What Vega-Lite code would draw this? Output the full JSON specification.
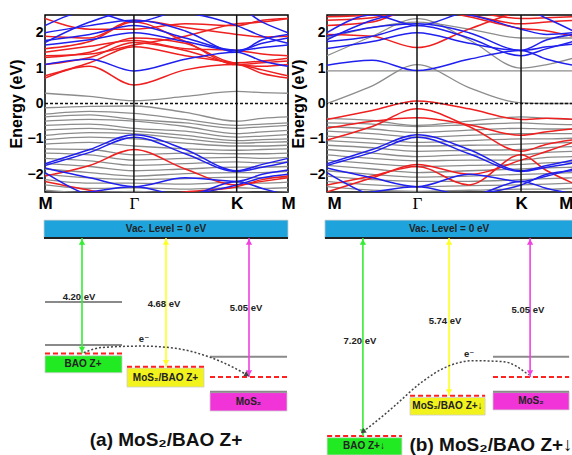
{
"$schema":"https://vega.github.io/schema/vega-lite/v6.json",
"padding":{"left":7,"top":13,"right":0,"bottom":0},
"background":"white",
"config":{"view":{"stroke":"black","strokeWidth":1.5},"font":"Liberation Sans",
"axis":{"grid":false,"domain":false,"labelFont":"Liberation Sans","labelFontWeight":"bold","labelColor":"black","tickColor":"black","titleFont":"Liberation Sans","titleFontWeight":"bold","titleColor":"black"}},
"datasets":{
"A":[
{"b":1,"c":"g","x":0,"e":0.29},{"b":1,"c":"g","x":0.29,"e":0.2},{"b":1,"c":"g","x":0.577,"e":0.08},{"b":1,"c":"g","x":0.91,"e":0.2},{"b":1,"c":"g","x":1.244,"e":0.34},{"b":1,"c":"g","x":1.41,"e":0.31},{"b":1,"c":"g","x":1.577,"e":0.29},
{"b":2,"c":"g","x":0,"e":-0.12},{"b":2,"c":"g","x":0.29,"e":-0.08},{"b":2,"c":"g","x":0.577,"e":-0.07},{"b":2,"c":"g","x":0.91,"e":-0.25},{"b":2,"c":"g","x":1.244,"e":-0.5},{"b":2,"c":"g","x":1.41,"e":-0.42},{"b":2,"c":"g","x":1.577,"e":-0.38},
{"b":3,"c":"g","x":0,"e":-0.3},{"b":3,"c":"g","x":0.29,"e":-0.22},{"b":3,"c":"g","x":0.577,"e":-0.28},{"b":3,"c":"g","x":0.91,"e":-0.45},{"b":3,"c":"g","x":1.244,"e":-0.62},{"b":3,"c":"g","x":1.41,"e":-0.58},{"b":3,"c":"g","x":1.577,"e":-0.55},
{"b":4,"c":"g","x":0,"e":-0.38},{"b":4,"c":"g","x":0.29,"e":-0.32},{"b":4,"c":"g","x":0.577,"e":-0.45},{"b":4,"c":"g","x":0.91,"e":-0.55},{"b":4,"c":"g","x":1.244,"e":-0.7},{"b":4,"c":"g","x":1.41,"e":-0.66},{"b":4,"c":"g","x":1.577,"e":-0.62},
{"b":5,"c":"g","x":0,"e":-0.5},{"b":5,"c":"g","x":0.29,"e":-0.45},{"b":5,"c":"g","x":0.577,"e":-0.5},{"b":5,"c":"g","x":0.91,"e":-0.65},{"b":5,"c":"g","x":1.244,"e":-0.85},{"b":5,"c":"g","x":1.41,"e":-0.8},{"b":5,"c":"g","x":1.577,"e":-0.76},
{"b":6,"c":"g","x":0,"e":-0.62},{"b":6,"c":"g","x":0.29,"e":-0.58},{"b":6,"c":"g","x":0.577,"e":-0.7},{"b":6,"c":"g","x":0.91,"e":-0.78},{"b":6,"c":"g","x":1.244,"e":-0.95},{"b":6,"c":"g","x":1.41,"e":-0.92},{"b":6,"c":"g","x":1.577,"e":-0.88},
{"b":7,"c":"g","x":0,"e":-0.75},{"b":7,"c":"g","x":0.29,"e":-0.7},{"b":7,"c":"g","x":0.577,"e":-0.78},{"b":7,"c":"g","x":0.91,"e":-0.9},{"b":7,"c":"g","x":1.244,"e":-1.05},{"b":7,"c":"g","x":1.41,"e":-1.02},{"b":7,"c":"g","x":1.577,"e":-1.0},
{"b":8,"c":"g","x":0,"e":-0.9},{"b":8,"c":"g","x":0.29,"e":-0.82},{"b":8,"c":"g","x":0.577,"e":-0.85},{"b":8,"c":"g","x":0.91,"e":-1.0},{"b":8,"c":"g","x":1.244,"e":-1.12},{"b":8,"c":"g","x":1.41,"e":-1.1},{"b":8,"c":"g","x":1.577,"e":-1.08},
{"b":9,"c":"g","x":0,"e":-1.02},{"b":9,"c":"g","x":0.29,"e":-0.95},{"b":9,"c":"g","x":0.577,"e":-1.0},{"b":9,"c":"g","x":0.91,"e":-1.12},{"b":9,"c":"g","x":1.244,"e":-1.2},{"b":9,"c":"g","x":1.41,"e":-1.2},{"b":9,"c":"g","x":1.577,"e":-1.18},
{"b":10,"c":"g","x":0,"e":-1.15},{"b":10,"c":"g","x":0.29,"e":-1.1},{"b":10,"c":"g","x":0.577,"e":-1.2},{"b":10,"c":"g","x":0.91,"e":-1.28},{"b":10,"c":"g","x":1.244,"e":-1.32},{"b":10,"c":"g","x":1.41,"e":-1.3},{"b":10,"c":"g","x":1.577,"e":-1.28},
{"b":11,"c":"g","x":0,"e":-1.28},{"b":11,"c":"g","x":0.29,"e":-1.3},{"b":11,"c":"g","x":0.577,"e":-1.45},{"b":11,"c":"g","x":0.91,"e":-1.4},{"b":11,"c":"g","x":1.244,"e":-1.42},{"b":11,"c":"g","x":1.41,"e":-1.42},{"b":11,"c":"g","x":1.577,"e":-1.4},
{"b":12,"c":"g","x":0,"e":-1.4},{"b":12,"c":"g","x":0.29,"e":-1.45},{"b":12,"c":"g","x":0.577,"e":-1.6},{"b":12,"c":"g","x":0.91,"e":-1.55},{"b":12,"c":"g","x":1.244,"e":-1.52},{"b":12,"c":"g","x":1.41,"e":-1.55},{"b":12,"c":"g","x":1.577,"e":-1.52},
{"b":13,"c":"g","x":0,"e":-1.55},{"b":13,"c":"g","x":0.29,"e":-1.62},{"b":13,"c":"g","x":0.577,"e":-1.75},{"b":13,"c":"g","x":0.91,"e":-1.7},{"b":13,"c":"g","x":1.244,"e":-1.65},{"b":13,"c":"g","x":1.41,"e":-1.68},{"b":13,"c":"g","x":1.577,"e":-1.65},
{"b":14,"c":"g","x":0,"e":-1.7},{"b":14,"c":"g","x":0.29,"e":-1.78},{"b":14,"c":"g","x":0.577,"e":-1.9},{"b":14,"c":"g","x":0.91,"e":-1.85},{"b":14,"c":"g","x":1.244,"e":-1.8},{"b":14,"c":"g","x":1.41,"e":-1.8},{"b":14,"c":"g","x":1.577,"e":-1.78},
{"b":15,"c":"g","x":0,"e":-1.85},{"b":15,"c":"g","x":0.29,"e":-1.95},{"b":15,"c":"g","x":0.577,"e":-2.05},{"b":15,"c":"g","x":0.91,"e":-1.98},{"b":15,"c":"g","x":1.244,"e":-1.95},{"b":15,"c":"g","x":1.41,"e":-1.95},{"b":15,"c":"g","x":1.577,"e":-1.92},
{"b":16,"c":"g","x":0,"e":-2.0},{"b":16,"c":"g","x":0.29,"e":-2.1},{"b":16,"c":"g","x":0.577,"e":-2.15},{"b":16,"c":"g","x":0.91,"e":-2.12},{"b":16,"c":"g","x":1.244,"e":-2.08},{"b":16,"c":"g","x":1.41,"e":-2.1},{"b":16,"c":"g","x":1.577,"e":-2.08},
{"b":17,"c":"g","x":0,"e":-2.15},{"b":17,"c":"g","x":0.29,"e":-2.25},{"b":17,"c":"g","x":0.577,"e":-2.25},{"b":17,"c":"g","x":0.91,"e":-2.28},{"b":17,"c":"g","x":1.244,"e":-2.22},{"b":17,"c":"g","x":1.41,"e":-2.25},{"b":17,"c":"g","x":1.577,"e":-2.22},
{"b":18,"c":"g","x":0,"e":-2.3},{"b":18,"c":"g","x":0.29,"e":-2.4},{"b":18,"c":"g","x":0.577,"e":-2.38},{"b":18,"c":"g","x":0.91,"e":-2.42},{"b":18,"c":"g","x":1.244,"e":-2.38},{"b":18,"c":"g","x":1.41,"e":-2.4},{"b":18,"c":"g","x":1.577,"e":-2.38},
{"b":19,"c":"g","x":0,"e":-2.45},{"b":19,"c":"g","x":0.29,"e":-2.52},{"b":19,"c":"g","x":0.577,"e":-2.48},{"b":19,"c":"g","x":0.91,"e":-2.55},{"b":19,"c":"g","x":1.244,"e":-2.5},{"b":19,"c":"g","x":1.41,"e":-2.52},{"b":19,"c":"g","x":1.577,"e":-2.5},
{"b":20,"c":"r","x":0,"e":0.72},{"b":20,"c":"r","x":0.29,"e":1.05},{"b":20,"c":"r","x":0.577,"e":0.52},{"b":20,"c":"r","x":0.91,"e":0.95},{"b":20,"c":"r","x":1.244,"e":1.1},{"b":20,"c":"r","x":1.41,"e":0.85},{"b":20,"c":"r","x":1.577,"e":0.72},
{"b":21,"c":"r","x":0,"e":0.78},{"b":21,"c":"r","x":0.29,"e":1.15},{"b":21,"c":"r","x":0.577,"e":1.6},{"b":21,"c":"r","x":0.91,"e":1.35},{"b":21,"c":"r","x":1.244,"e":1.12},{"b":21,"c":"r","x":1.41,"e":0.95},{"b":21,"c":"r","x":1.577,"e":0.78},
{"b":22,"c":"r","x":0,"e":1.1},{"b":22,"c":"r","x":0.29,"e":1.3},{"b":22,"c":"r","x":0.577,"e":1.72},{"b":22,"c":"r","x":0.91,"e":1.5},{"b":22,"c":"r","x":1.244,"e":1.1},{"b":22,"c":"r","x":1.41,"e":1.05},{"b":22,"c":"r","x":1.577,"e":1.1},
{"b":23,"c":"r","x":0,"e":1.3},{"b":23,"c":"r","x":0.29,"e":1.45},{"b":23,"c":"r","x":0.577,"e":1.85},{"b":23,"c":"r","x":0.91,"e":1.7},{"b":23,"c":"r","x":1.244,"e":1.15},{"b":23,"c":"r","x":1.41,"e":1.2},{"b":23,"c":"r","x":1.577,"e":1.28},
{"b":24,"c":"r","x":0,"e":1.45},{"b":24,"c":"r","x":0.29,"e":1.62},{"b":24,"c":"r","x":0.577,"e":1.78},{"b":24,"c":"r","x":0.91,"e":1.55},{"b":24,"c":"r","x":1.244,"e":1.5},{"b":24,"c":"r","x":1.41,"e":1.4},{"b":24,"c":"r","x":1.577,"e":1.35},
{"b":25,"c":"r","x":0,"e":1.55},{"b":25,"c":"r","x":0.29,"e":1.75},{"b":25,"c":"r","x":0.577,"e":2.3},{"b":25,"c":"r","x":0.91,"e":1.75},{"b":25,"c":"r","x":1.244,"e":1.1},{"b":25,"c":"r","x":1.41,"e":1.15},{"b":25,"c":"r","x":1.577,"e":1.2},
{"b":26,"c":"r","x":0,"e":1.9},{"b":26,"c":"r","x":0.29,"e":1.85},{"b":26,"c":"r","x":0.577,"e":2.35},{"b":26,"c":"r","x":0.91,"e":2.15},{"b":26,"c":"r","x":1.244,"e":1.95},{"b":26,"c":"r","x":1.41,"e":1.88},{"b":26,"c":"r","x":1.577,"e":1.9},
{"b":27,"c":"r","x":0,"e":2.4},{"b":27,"c":"r","x":0.29,"e":2.1},{"b":27,"c":"r","x":0.577,"e":2.1},{"b":27,"c":"r","x":0.91,"e":2.25},{"b":27,"c":"r","x":1.244,"e":2.2},{"b":27,"c":"r","x":1.41,"e":2.35},{"b":27,"c":"r","x":1.577,"e":2.4},
{"b":28,"c":"r","x":0,"e":1.35},{"b":28,"c":"r","x":0.29,"e":1.4},{"b":28,"c":"r","x":0.577,"e":1.65},{"b":28,"c":"r","x":0.91,"e":1.9},{"b":28,"c":"r","x":1.244,"e":2.25},{"b":28,"c":"r","x":1.41,"e":2.3},{"b":28,"c":"r","x":1.577,"e":2.4},
{"b":29,"c":"r","x":0,"e":-2.05},{"b":29,"c":"r","x":0.29,"e":-1.75},{"b":29,"c":"r","x":0.577,"e":-1.3},{"b":29,"c":"r","x":0.91,"e":-1.85},{"b":29,"c":"r","x":1.244,"e":-2.3},{"b":29,"c":"r","x":1.41,"e":-2.2},{"b":29,"c":"r","x":1.577,"e":-2.1},
{"b":30,"c":"r","x":0,"e":-2.2},{"b":30,"c":"r","x":0.29,"e":-2.45},{"b":30,"c":"r","x":0.577,"e":-2.65},{"b":30,"c":"r","x":0.91,"e":-2.5},{"b":30,"c":"r","x":1.244,"e":-2.35},{"b":30,"c":"r","x":1.41,"e":-2.15},{"b":30,"c":"r","x":1.577,"e":-2.05},
{"b":31,"c":"b","x":0,"e":1.1},{"b":31,"c":"b","x":0.29,"e":1.25},{"b":31,"c":"b","x":0.577,"e":0.92},{"b":31,"c":"b","x":0.91,"e":1.25},{"b":31,"c":"b","x":1.244,"e":1.45},{"b":31,"c":"b","x":1.41,"e":1.2},{"b":31,"c":"b","x":1.577,"e":1.05},
{"b":32,"c":"b","x":0,"e":1.65},{"b":32,"c":"b","x":0.29,"e":1.8},{"b":32,"c":"b","x":0.577,"e":2.0},{"b":32,"c":"b","x":0.91,"e":1.75},{"b":32,"c":"b","x":1.244,"e":1.5},{"b":32,"c":"b","x":1.41,"e":1.58},{"b":32,"c":"b","x":1.577,"e":1.65},
{"b":33,"c":"b","x":0,"e":1.78},{"b":33,"c":"b","x":0.29,"e":1.95},{"b":33,"c":"b","x":0.577,"e":2.2},{"b":33,"c":"b","x":0.91,"e":1.85},{"b":33,"c":"b","x":1.244,"e":1.5},{"b":33,"c":"b","x":1.41,"e":1.7},{"b":33,"c":"b","x":1.577,"e":1.85},
{"b":34,"c":"b","x":0,"e":2.0},{"b":34,"c":"b","x":0.29,"e":2.2},{"b":34,"c":"b","x":0.577,"e":2.35},{"b":34,"c":"b","x":0.91,"e":2.05},{"b":34,"c":"b","x":1.244,"e":1.45},{"b":34,"c":"b","x":1.41,"e":1.8},{"b":34,"c":"b","x":1.577,"e":1.95},
{"b":35,"c":"b","x":0,"e":1.72},{"b":35,"c":"b","x":0.29,"e":2.3},{"b":35,"c":"b","x":0.577,"e":2.6},{"b":35,"c":"b","x":0.91,"e":2.55},{"b":35,"c":"b","x":1.244,"e":2.2},{"b":35,"c":"b","x":1.41,"e":1.9},{"b":35,"c":"b","x":1.577,"e":1.7},
{"b":36,"c":"b","x":0,"e":2.2},{"b":36,"c":"b","x":0.29,"e":2.6},{"b":36,"c":"b","x":0.577,"e":2.3},{"b":36,"c":"b","x":0.91,"e":2.65},{"b":36,"c":"b","x":1.244,"e":2.7},{"b":36,"c":"b","x":1.41,"e":2.3},{"b":36,"c":"b","x":1.577,"e":2.0},
{"b":37,"c":"b","x":0,"e":-1.7},{"b":37,"c":"b","x":0.29,"e":-1.3},{"b":37,"c":"b","x":0.577,"e":-0.88},{"b":37,"c":"b","x":0.91,"e":-1.3},{"b":37,"c":"b","x":1.244,"e":-1.9},{"b":37,"c":"b","x":1.41,"e":-1.72},{"b":37,"c":"b","x":1.577,"e":-1.55},
{"b":38,"c":"b","x":0,"e":-1.75},{"b":38,"c":"b","x":0.29,"e":-1.38},{"b":38,"c":"b","x":0.577,"e":-0.95},{"b":38,"c":"b","x":0.91,"e":-1.42},{"b":38,"c":"b","x":1.244,"e":-1.92},{"b":38,"c":"b","x":1.41,"e":-1.8},{"b":38,"c":"b","x":1.577,"e":-1.65},
{"b":39,"c":"b","x":0,"e":-1.82},{"b":39,"c":"b","x":0.29,"e":-2.1},{"b":39,"c":"b","x":0.577,"e":-2.35},{"b":39,"c":"b","x":0.91,"e":-2.1},{"b":39,"c":"b","x":1.244,"e":-2.2},{"b":39,"c":"b","x":1.41,"e":-2.0},{"b":39,"c":"b","x":1.577,"e":-1.88},
{"b":40,"c":"b","x":0,"e":-1.95},{"b":40,"c":"b","x":0.29,"e":-2.6},{"b":40,"c":"b","x":0.577,"e":-2.8},{"b":40,"c":"b","x":0.91,"e":-2.6},{"b":40,"c":"b","x":1.244,"e":-2.3},{"b":40,"c":"b","x":1.41,"e":-2.1},{"b":40,"c":"b","x":1.577,"e":-2.0},
{"b":41,"c":"b","x":0,"e":-2.7},{"b":41,"c":"b","x":0.29,"e":-2.5},{"b":41,"c":"b","x":0.577,"e":-2.35},{"b":41,"c":"b","x":0.91,"e":-2.6},{"b":41,"c":"b","x":1.244,"e":-2.2},{"b":41,"c":"b","x":1.41,"e":-2.4},{"b":41,"c":"b","x":1.577,"e":-2.6}
],
"B":[
{"b":1,"c":"g","x":0,"e":0.92},{"b":1,"c":"g","x":0.29,"e":0.92},{"b":1,"c":"g","x":0.577,"e":0.92},{"b":1,"c":"g","x":0.91,"e":0.92},{"b":1,"c":"g","x":1.244,"e":0.92},{"b":1,"c":"g","x":1.41,"e":0.92},{"b":1,"c":"g","x":1.577,"e":0.92},
{"b":2,"c":"g","x":0,"e":0.0},{"b":2,"c":"g","x":0.29,"e":0.5},{"b":2,"c":"g","x":0.577,"e":1.1},{"b":2,"c":"g","x":0.91,"e":0.45},{"b":2,"c":"g","x":1.244,"e":0.02},{"b":2,"c":"g","x":1.41,"e":0.0},{"b":2,"c":"g","x":1.577,"e":0.0},
{"b":3,"c":"g","x":0,"e":1.35},{"b":3,"c":"g","x":0.29,"e":1.9},{"b":3,"c":"g","x":0.577,"e":2.4},{"b":3,"c":"g","x":0.91,"e":1.8},{"b":3,"c":"g","x":1.244,"e":1.0},{"b":3,"c":"g","x":1.41,"e":1.1},{"b":3,"c":"g","x":1.577,"e":1.28},
{"b":4,"c":"g","x":0,"e":1.85},{"b":4,"c":"g","x":0.29,"e":2.15},{"b":4,"c":"g","x":0.577,"e":2.3},{"b":4,"c":"g","x":0.91,"e":2.1},{"b":4,"c":"g","x":1.244,"e":1.85},{"b":4,"c":"g","x":1.41,"e":1.85},{"b":4,"c":"g","x":1.577,"e":1.85},
{"b":5,"c":"g","x":0,"e":-0.42},{"b":5,"c":"g","x":0.29,"e":-0.48},{"b":5,"c":"g","x":0.577,"e":-0.62},{"b":5,"c":"g","x":0.91,"e":-0.5},{"b":5,"c":"g","x":1.244,"e":-0.38},{"b":5,"c":"g","x":1.41,"e":-0.42},{"b":5,"c":"g","x":1.577,"e":-0.45},
{"b":6,"c":"g","x":0,"e":-0.55},{"b":6,"c":"g","x":0.29,"e":-0.58},{"b":6,"c":"g","x":0.577,"e":-0.65},{"b":6,"c":"g","x":0.91,"e":-0.6},{"b":6,"c":"g","x":1.244,"e":-0.55},{"b":6,"c":"g","x":1.41,"e":-0.58},{"b":6,"c":"g","x":1.577,"e":-0.6},
{"b":7,"c":"g","x":0,"e":-0.65},{"b":7,"c":"g","x":0.29,"e":-0.72},{"b":7,"c":"g","x":0.577,"e":-0.82},{"b":7,"c":"g","x":0.91,"e":-0.75},{"b":7,"c":"g","x":1.244,"e":-0.7},{"b":7,"c":"g","x":1.41,"e":-0.72},{"b":7,"c":"g","x":1.577,"e":-0.72},
{"b":8,"c":"g","x":0,"e":-0.78},{"b":8,"c":"g","x":0.29,"e":-0.85},{"b":8,"c":"g","x":0.577,"e":-0.95},{"b":8,"c":"g","x":0.91,"e":-0.9},{"b":8,"c":"g","x":1.244,"e":-0.85},{"b":8,"c":"g","x":1.41,"e":-0.85},{"b":8,"c":"g","x":1.577,"e":-0.85},
{"b":9,"c":"g","x":0,"e":-0.92},{"b":9,"c":"g","x":0.29,"e":-1.0},{"b":9,"c":"g","x":0.577,"e":-1.1},{"b":9,"c":"g","x":0.91,"e":-1.05},{"b":9,"c":"g","x":1.244,"e":-1.0},{"b":9,"c":"g","x":1.41,"e":-1.0},{"b":9,"c":"g","x":1.577,"e":-0.98},
{"b":10,"c":"g","x":0,"e":-1.05},{"b":10,"c":"g","x":0.29,"e":-1.12},{"b":10,"c":"g","x":0.577,"e":-1.2},{"b":10,"c":"g","x":0.91,"e":-1.18},{"b":10,"c":"g","x":1.244,"e":-1.15},{"b":10,"c":"g","x":1.41,"e":-1.12},{"b":10,"c":"g","x":1.577,"e":-1.1},
{"b":11,"c":"g","x":0,"e":-1.18},{"b":11,"c":"g","x":0.29,"e":-1.25},{"b":11,"c":"g","x":0.577,"e":-1.35},{"b":11,"c":"g","x":0.91,"e":-1.32},{"b":11,"c":"g","x":1.244,"e":-1.3},{"b":11,"c":"g","x":1.41,"e":-1.25},{"b":11,"c":"g","x":1.577,"e":-1.22},
{"b":12,"c":"g","x":0,"e":-1.3},{"b":12,"c":"g","x":0.29,"e":-1.4},{"b":12,"c":"g","x":0.577,"e":-1.5},{"b":12,"c":"g","x":0.91,"e":-1.45},{"b":12,"c":"g","x":1.244,"e":-1.45},{"b":12,"c":"g","x":1.41,"e":-1.38},{"b":12,"c":"g","x":1.577,"e":-1.35},
{"b":13,"c":"g","x":0,"e":-1.45},{"b":13,"c":"g","x":0.29,"e":-1.55},{"b":13,"c":"g","x":0.577,"e":-1.62},{"b":13,"c":"g","x":0.91,"e":-1.6},{"b":13,"c":"g","x":1.244,"e":-1.6},{"b":13,"c":"g","x":1.41,"e":-1.52},{"b":13,"c":"g","x":1.577,"e":-1.5},
{"b":14,"c":"g","x":0,"e":-1.6},{"b":14,"c":"g","x":0.29,"e":-1.7},{"b":14,"c":"g","x":0.577,"e":-1.78},{"b":14,"c":"g","x":0.91,"e":-1.75},{"b":14,"c":"g","x":1.244,"e":-1.72},{"b":14,"c":"g","x":1.41,"e":-1.68},{"b":14,"c":"g","x":1.577,"e":-1.65},
{"b":15,"c":"g","x":0,"e":-1.75},{"b":15,"c":"g","x":0.29,"e":-1.85},{"b":15,"c":"g","x":0.577,"e":-1.95},{"b":15,"c":"g","x":0.91,"e":-1.9},{"b":15,"c":"g","x":1.244,"e":-1.85},{"b":15,"c":"g","x":1.41,"e":-1.82},{"b":15,"c":"g","x":1.577,"e":-1.8},
{"b":16,"c":"g","x":0,"e":-1.9},{"b":16,"c":"g","x":0.29,"e":-2.0},{"b":16,"c":"g","x":0.577,"e":-2.08},{"b":16,"c":"g","x":0.91,"e":-2.05},{"b":16,"c":"g","x":1.244,"e":-2.0},{"b":16,"c":"g","x":1.41,"e":-1.98},{"b":16,"c":"g","x":1.577,"e":-1.95},
{"b":17,"c":"g","x":0,"e":-2.05},{"b":17,"c":"g","x":0.29,"e":-2.15},{"b":17,"c":"g","x":0.577,"e":-2.2},{"b":17,"c":"g","x":0.91,"e":-2.2},{"b":17,"c":"g","x":1.244,"e":-2.15},{"b":17,"c":"g","x":1.41,"e":-2.12},{"b":17,"c":"g","x":1.577,"e":-2.1},
{"b":18,"c":"g","x":0,"e":-2.2},{"b":18,"c":"g","x":0.29,"e":-2.3},{"b":18,"c":"g","x":0.577,"e":-2.35},{"b":18,"c":"g","x":0.91,"e":-2.32},{"b":18,"c":"g","x":1.244,"e":-2.3},{"b":18,"c":"g","x":1.41,"e":-2.28},{"b":18,"c":"g","x":1.577,"e":-2.25},
{"b":19,"c":"g","x":0,"e":-2.35},{"b":19,"c":"g","x":0.29,"e":-2.45},{"b":19,"c":"g","x":0.577,"e":-2.48},{"b":19,"c":"g","x":0.91,"e":-2.45},{"b":19,"c":"g","x":1.244,"e":-2.42},{"b":19,"c":"g","x":1.41,"e":-2.42},{"b":19,"c":"g","x":1.577,"e":-2.4},
{"b":20,"c":"r","x":0,"e":1.95},{"b":20,"c":"r","x":0.29,"e":1.9},{"b":20,"c":"r","x":0.577,"e":1.58},{"b":20,"c":"r","x":0.91,"e":2.1},{"b":20,"c":"r","x":1.244,"e":2.6},{"b":20,"c":"r","x":1.41,"e":2.7},{"b":20,"c":"r","x":1.577,"e":2.7},
{"b":21,"c":"r","x":0,"e":2.2},{"b":21,"c":"r","x":0.29,"e":2.3},{"b":21,"c":"r","x":0.577,"e":2.7},{"b":21,"c":"r","x":0.91,"e":2.45},{"b":21,"c":"r","x":1.244,"e":2.12},{"b":21,"c":"r","x":1.41,"e":2.05},{"b":21,"c":"r","x":1.577,"e":1.9},
{"b":22,"c":"r","x":0,"e":2.35},{"b":22,"c":"r","x":0.29,"e":2.42},{"b":22,"c":"r","x":0.577,"e":2.65},{"b":22,"c":"r","x":0.91,"e":2.5},{"b":22,"c":"r","x":1.244,"e":2.25},{"b":22,"c":"r","x":1.41,"e":2.3},{"b":22,"c":"r","x":1.577,"e":2.35},
{"b":23,"c":"r","x":0,"e":2.45},{"b":23,"c":"r","x":0.29,"e":2.5},{"b":23,"c":"r","x":0.577,"e":2.7},{"b":23,"c":"r","x":0.91,"e":2.6},{"b":23,"c":"r","x":1.244,"e":2.4},{"b":23,"c":"r","x":1.41,"e":2.42},{"b":23,"c":"r","x":1.577,"e":2.45},
{"b":24,"c":"r","x":0,"e":-0.45},{"b":24,"c":"r","x":0.29,"e":-0.2},{"b":24,"c":"r","x":0.577,"e":0.07},{"b":24,"c":"r","x":0.91,"e":-0.15},{"b":24,"c":"r","x":1.244,"e":-0.45},{"b":24,"c":"r","x":1.41,"e":-0.42},{"b":24,"c":"r","x":1.577,"e":-0.45},
{"b":25,"c":"r","x":0,"e":-0.7},{"b":25,"c":"r","x":0.29,"e":-0.5},{"b":25,"c":"r","x":0.577,"e":-0.4},{"b":25,"c":"r","x":0.91,"e":-0.6},{"b":25,"c":"r","x":1.244,"e":-0.9},{"b":25,"c":"r","x":1.41,"e":-0.8},{"b":25,"c":"r","x":1.577,"e":-0.72},
{"b":26,"c":"r","x":0,"e":-1.03},{"b":26,"c":"r","x":0.29,"e":-0.65},{"b":26,"c":"r","x":0.577,"e":-0.15},{"b":26,"c":"r","x":0.91,"e":-0.65},{"b":26,"c":"r","x":1.244,"e":-1.35},{"b":26,"c":"r","x":1.41,"e":-1.15},{"b":26,"c":"r","x":1.577,"e":-1.03},
{"b":27,"c":"r","x":0,"e":-2.5},{"b":27,"c":"r","x":0.29,"e":-2.1},{"b":27,"c":"r","x":0.577,"e":-1.72},{"b":27,"c":"r","x":0.91,"e":-2.0},{"b":27,"c":"r","x":1.244,"e":-1.6},{"b":27,"c":"r","x":1.41,"e":-1.35},{"b":27,"c":"r","x":1.577,"e":-1.1},
{"b":28,"c":"r","x":0,"e":-2.3},{"b":28,"c":"r","x":0.29,"e":-2.05},{"b":28,"c":"r","x":0.577,"e":-1.78},{"b":28,"c":"r","x":0.91,"e":-2.3},{"b":28,"c":"r","x":1.244,"e":-1.45},{"b":28,"c":"r","x":1.41,"e":-1.9},{"b":28,"c":"r","x":1.577,"e":-2.25},
{"b":29,"c":"b","x":0,"e":1.08},{"b":29,"c":"b","x":0.29,"e":1.22},{"b":29,"c":"b","x":0.577,"e":0.93},{"b":29,"c":"b","x":0.91,"e":1.25},{"b":29,"c":"b","x":1.244,"e":1.5},{"b":29,"c":"b","x":1.41,"e":1.25},{"b":29,"c":"b","x":1.577,"e":1.08},
{"b":30,"c":"b","x":0,"e":1.55},{"b":30,"c":"b","x":0.29,"e":1.75},{"b":30,"c":"b","x":0.577,"e":2.0},{"b":30,"c":"b","x":0.91,"e":1.7},{"b":30,"c":"b","x":1.244,"e":1.5},{"b":30,"c":"b","x":1.41,"e":1.6},{"b":30,"c":"b","x":1.577,"e":1.68},
{"b":31,"c":"b","x":0,"e":1.75},{"b":31,"c":"b","x":0.29,"e":1.9},{"b":31,"c":"b","x":0.577,"e":2.2},{"b":31,"c":"b","x":0.91,"e":1.85},{"b":31,"c":"b","x":1.244,"e":1.35},{"b":31,"c":"b","x":1.41,"e":1.55},{"b":31,"c":"b","x":1.577,"e":1.75},
{"b":32,"c":"b","x":0,"e":1.9},{"b":32,"c":"b","x":0.29,"e":2.15},{"b":32,"c":"b","x":0.577,"e":2.25},{"b":32,"c":"b","x":0.91,"e":2.0},{"b":32,"c":"b","x":1.244,"e":1.5},{"b":32,"c":"b","x":1.41,"e":1.8},{"b":32,"c":"b","x":1.577,"e":1.95},
{"b":33,"c":"b","x":0,"e":1.8},{"b":33,"c":"b","x":0.29,"e":2.35},{"b":33,"c":"b","x":0.577,"e":2.6},{"b":33,"c":"b","x":0.91,"e":2.5},{"b":33,"c":"b","x":1.244,"e":2.1},{"b":33,"c":"b","x":1.41,"e":1.95},{"b":33,"c":"b","x":1.577,"e":2.0},
{"b":34,"c":"b","x":0,"e":2.0},{"b":34,"c":"b","x":0.29,"e":2.5},{"b":34,"c":"b","x":0.577,"e":2.2},{"b":34,"c":"b","x":0.91,"e":2.6},{"b":34,"c":"b","x":1.244,"e":2.7},{"b":34,"c":"b","x":1.41,"e":2.4},{"b":34,"c":"b","x":1.577,"e":2.05},
{"b":35,"c":"b","x":0,"e":-1.7},{"b":35,"c":"b","x":0.29,"e":-1.3},{"b":35,"c":"b","x":0.577,"e":-0.88},{"b":35,"c":"b","x":0.91,"e":-1.3},{"b":35,"c":"b","x":1.244,"e":-1.9},{"b":35,"c":"b","x":1.41,"e":-1.75},{"b":35,"c":"b","x":1.577,"e":-1.6},
{"b":36,"c":"b","x":0,"e":-1.75},{"b":36,"c":"b","x":0.29,"e":-1.38},{"b":36,"c":"b","x":0.577,"e":-0.95},{"b":36,"c":"b","x":0.91,"e":-1.42},{"b":36,"c":"b","x":1.244,"e":-1.92},{"b":36,"c":"b","x":1.41,"e":-1.8},{"b":36,"c":"b","x":1.577,"e":-1.68},
{"b":37,"c":"b","x":0,"e":-1.82},{"b":37,"c":"b","x":0.29,"e":-2.1},{"b":37,"c":"b","x":0.577,"e":-2.35},{"b":37,"c":"b","x":0.91,"e":-2.0},{"b":37,"c":"b","x":1.244,"e":-2.2},{"b":37,"c":"b","x":1.41,"e":-2.05},{"b":37,"c":"b","x":1.577,"e":-1.85},
{"b":38,"c":"b","x":0,"e":-1.95},{"b":38,"c":"b","x":0.29,"e":-2.6},{"b":38,"c":"b","x":0.577,"e":-2.8},{"b":38,"c":"b","x":0.91,"e":-2.6},{"b":38,"c":"b","x":1.244,"e":-2.3},{"b":38,"c":"b","x":1.41,"e":-2.0},{"b":38,"c":"b","x":1.577,"e":-1.9},
{"b":39,"c":"b","x":0,"e":-2.7},{"b":39,"c":"b","x":0.29,"e":-2.5},{"b":39,"c":"b","x":0.577,"e":-2.35},{"b":39,"c":"b","x":0.91,"e":-2.6},{"b":39,"c":"b","x":1.244,"e":-2.2},{"b":39,"c":"b","x":1.41,"e":-2.4},{"b":39,"c":"b","x":1.577,"e":-2.55}
]
},
"spacing":6,
"vconcat":[
{"spacing":39,"bounds":"flush","hconcat":[
{"width":243,"height":177,"data":{"name":"A"},
"layer":[
{"transform":[{"filter":"datum.c == 'g'"}],"mark":{"type":"line","interpolate":"monotone","color":"#8c8c8c","strokeWidth":1.3,"clip":true},
"encoding":{"x":{"field":"x","type":"quantitative","scale":{"domain":[0,1.577],"nice":false,"zero":false},"axis":{"values":[0,0.577,1.244,1.577],"labelExpr":"datum.value < 0.1 ? 'M' : datum.value < 1 ? 'Γ' : datum.value < 1.5 ? 'K' : 'M'","title":null,"ticks":false,"labelFontSize":17,"labelPadding":3,"labelFlush":false,"labelOverlap":false,"labelFont":{"condition":{"test":"datum.value > 0.5 && datum.value < 0.6","value":"Liberation Serif"},"value":"Liberation Sans"},"labelFontWeight":{"condition":{"test":"datum.value > 0.5 && datum.value < 0.6","value":"normal"},"value":"bold"}}},
"y":{"field":"e","type":"quantitative","scale":{"domain":[-2.5,2.5],"nice":false,"zero":false},"axis":{"values":[-2,-1,0,1,2],"title":"Energy (eV)","titleFontSize":16,"labelFontSize":14,"ticks":false,"labelPadding":2,"titlePadding":3}},
"detail":{"field":"b"}}},
{"transform":[{"filter":"datum.c == 'r'"}],"mark":{"type":"line","interpolate":"monotone","color":"#ee2020","strokeWidth":1.5,"clip":true},
"encoding":{"x":{"field":"x","type":"quantitative"},"y":{"field":"e","type":"quantitative"},"detail":{"field":"b"}}},
{"transform":[{"filter":"datum.c == 'b'"}],"mark":{"type":"line","interpolate":"monotone","color":"#2020ee","strokeWidth":1.5,"clip":true},
"encoding":{"x":{"field":"x","type":"quantitative"},"y":{"field":"e","type":"quantitative"},"detail":{"field":"b"}}},
{"data":{"values":[{"x":0.577},{"x":1.244}]},"mark":{"type":"rule","color":"#111111","strokeWidth":1.5},"encoding":{"x":{"field":"x","type":"quantitative"}}},
{"data":{"values":[{"e":0}]},"mark":{"type":"rule","color":"#111111","strokeWidth":1.5,"strokeDash":[3,2]},"encoding":{"y":{"field":"e","type":"quantitative"}}}
]},
{"width":246,"height":177,"data":{"name":"B"},
"layer":[
{"transform":[{"filter":"datum.c == 'g'"}],"mark":{"type":"line","interpolate":"monotone","color":"#8c8c8c","strokeWidth":1.3,"clip":true},
"encoding":{"x":{"field":"x","type":"quantitative","scale":{"domain":[0,1.577],"nice":false,"zero":false},"axis":{"values":[0,0.577,1.244,1.577],"labelExpr":"datum.value < 0.1 ? 'M' : datum.value < 1 ? 'Γ' : datum.value < 1.5 ? 'K' : 'M'","title":null,"ticks":false,"labelFontSize":17,"labelPadding":3,"labelFlush":true,"labelOverlap":false,"labelFont":{"condition":{"test":"datum.value > 0.5 && datum.value < 0.6","value":"Liberation Serif"},"value":"Liberation Sans"},"labelFontWeight":{"condition":{"test":"datum.value > 0.5 && datum.value < 0.6","value":"normal"},"value":"bold"}}},
"y":{"field":"e","type":"quantitative","scale":{"domain":[-2.5,2.5],"nice":false,"zero":false},"axis":{"values":[-2,-1,0,1,2],"title":"Energy (eV)","titleFontSize":16,"labelFontSize":14,"ticks":false,"labelPadding":2,"titlePadding":3}},
"detail":{"field":"b"}}},
{"transform":[{"filter":"datum.c == 'r'"}],"mark":{"type":"line","interpolate":"monotone","color":"#ee2020","strokeWidth":1.5,"clip":true},
"encoding":{"x":{"field":"x","type":"quantitative"},"y":{"field":"e","type":"quantitative"},"detail":{"field":"b"}}},
{"transform":[{"filter":"datum.c == 'b'"}],"mark":{"type":"line","interpolate":"monotone","color":"#2020ee","strokeWidth":1.5,"clip":true},
"encoding":{"x":{"field":"x","type":"quantitative"},"y":{"field":"e","type":"quantitative"},"detail":{"field":"b"}}},
{"data":{"values":[{"x":0.577},{"x":1.244}]},"mark":{"type":"rule","color":"#111111","strokeWidth":1.5},"encoding":{"x":{"field":"x","type":"quantitative"}}},
{"data":{"values":[{"e":0}]},"mark":{"type":"rule","color":"#111111","strokeWidth":1.5,"strokeDash":[3,2]},"encoding":{"y":{"field":"e","type":"quantitative"}}}
]}
]},
{"spacing":8,"hconcat":[
{"width":250,"height":237,"view":{"stroke":null},"resolve":{"scale":{"color":"independent"}},
"layer":[
{"data":{"values":[{"x1":-0.4,"x2":97.2,"e1":-0.65,"e2":0,"f":"vac"},{"x1":0,"x2":30.8,"e1":4.28,"e2":4.9,"f":"BAO"},{"x1":32.8,"x2":63.6,"e1":4.73,"e2":5.42,"f":"het"},{"x1":66,"x2":96.8,"e1":5.62,"e2":6.29,"f":"MoS2"}]},
"mark":{"type":"rect","stroke":"#cfcfcf","strokeWidth":0.8},
"encoding":{"x":{"field":"x1","type":"quantitative","scale":{"domain":[0,100],"nice":false,"zero":false},"axis":null},"x2":{"field":"x2"},
"y":{"field":"e1","type":"quantitative","scale":{"domain":[-0.727,7.89],"reverse":true,"nice":false,"zero":false},"axis":null},"y2":{"field":"e2"},
"color":{"field":"f","type":"nominal","scale":{"domain":["vac","BAO","het","MoS2"],"range":["#1fa3dc","#22ea22","#f2f21c","#f034d8"]},"legend":null}}},
{"data":{"values":[{"x1":-0.4,"x2":97.2,"e":0,"k":"vac"},{"x1":0,"x2":30.8,"e":2.33,"k":"lvl"},{"x1":0,"x2":30.8,"e":3.89,"k":"lvl"},{"x1":66,"x2":96.8,"e":4.32,"k":"lvl"},{"x1":66,"x2":96.8,"e":5.59,"k":"lvl"}]},
"mark":{"type":"rule","strokeWidth":2},
"encoding":{"x":{"field":"x1","type":"quantitative"},"x2":{"field":"x2"},"y":{"field":"e","type":"quantitative"},
"color":{"field":"k","type":"nominal","scale":{"domain":["vac","lvl"],"range":["#222222","#8a8a8a"]},"legend":null}}},
{"data":{"values":[{"x1":0,"x2":30.8,"e":4.2},{"x1":32.8,"x2":63.6,"e":4.68},{"x1":66,"x2":96.8,"e":5.05}]},
"mark":{"type":"rule","strokeWidth":2,"color":"#ff2020","strokeDash":[5,3]},
"encoding":{"x":{"field":"x1","type":"quantitative"},"x2":{"field":"x2"},"y":{"field":"e","type":"quantitative"}}},
{"data":{"values":[{"x":14.8,"e0":0,"e1":4.2,"m":"BAO"},{"x":48.4,"e0":0,"e1":4.68,"m":"het"},{"x":81.6,"e0":0,"e1":5.05,"m":"MoS2"}]},
"layer":[
{"mark":{"type":"rule","strokeWidth":1.6},"encoding":{"x":{"field":"x","type":"quantitative"},"y":{"field":"e0","type":"quantitative"},"y2":{"field":"e1"},"color":{"field":"m","type":"nominal","scale":{"domain":["BAO","het","MoS2"],"range":["#33ee33","#ffff22","#f040e0"]},"legend":null}}},
{"mark":{"type":"point","shape":"triangle-up","filled":true,"opacity":1,"size":40,"yOffset":4},"encoding":{"x":{"field":"x","type":"quantitative"},"y":{"field":"e0","type":"quantitative"},"color":{"field":"m","type":"nominal","legend":null}}},
{"mark":{"type":"point","shape":"triangle-down","filled":true,"opacity":1,"size":40,"yOffset":-4},"encoding":{"x":{"field":"x","type":"quantitative"},"y":{"field":"e1","type":"quantitative"},"color":{"field":"m","type":"nominal","legend":null}}}
]},
{"data":{"values":[{"x":15.5,"e":4.17},{"x":22.8,"e":3.98},{"x":38.8,"e":3.93},{"x":52.1,"e":4.01},{"x":65.5,"e":4.32},{"x":76.1,"e":4.74},{"x":80.8,"e":4.98}]},
"mark":{"type":"line","interpolate":"monotone","color":"#444444","strokeWidth":1.5,"strokeDash":[2,2]},
"encoding":{"x":{"field":"x","type":"quantitative"},"y":{"field":"e","type":"quantitative"}}},
{"data":{"values":[{"x":80.8,"e":4.98}]},"mark":{"type":"point","shape":"triangle-right","angle":30,"filled":true,"opacity":1,"size":35,"color":"#444444"},
"encoding":{"x":{"field":"x","type":"quantitative"},"y":{"field":"e","type":"quantitative"}}},
{"data":{"values":[{"x":13.6,"e":2.15,"t":"4.20 eV"},{"x":47.6,"e":2.4,"t":"4.68 eV"},{"x":80.4,"e":2.55,"t":"5.05 eV"},{"x":39.6,"e":3.68,"t":"e⁻"}]},
"mark":{"type":"text","font":"Liberation Sans, DejaVu Sans","fontWeight":"bold","fontSize":9.5,"color":"#222222"},
"encoding":{"x":{"field":"x","type":"quantitative"},"y":{"field":"e","type":"quantitative"},"text":{"field":"t"}}},
{"data":{"values":[{"x":48.4,"e":-0.33,"t":"Vac. Level = 0 eV"},{"x":15.2,"e":4.59,"t":"BAO Z+"},{"x":48.2,"e":5.08,"t":"MoS₂/BAO Z+"},{"x":81.4,"e":5.95,"t":"MoS₂"}]},
"mark":{"type":"text","font":"Liberation Sans, DejaVu Sans","fontWeight":"bold","fontSize":10,"color":"#222222"},
"encoding":{"x":{"field":"x","type":"quantitative"},"y":{"field":"e","type":"quantitative"},"text":{"field":"t"}}},
{"data":{"values":[{"x":48.4,"e":7.35,"t":"(a) MoS₂/BAO Z+"}]},
"mark":{"type":"text","font":"Liberation Sans, DejaVu Sans","fontWeight":"bold","fontSize":19,"color":"#111111"},
"encoding":{"x":{"field":"x","type":"quantitative"},"y":{"field":"e","type":"quantitative"},"text":{"field":"t"}}}
]},
{"width":271,"height":237,"view":{"stroke":null},"resolve":{"scale":{"color":"independent"}},
"layer":[
{"data":{"values":[{"x1":8.1,"x2":99.6,"e1":-0.65,"e2":0,"f":"vac"},{"x1":8.9,"x2":36.5,"e1":7.26,"e2":7.89,"f":"BAO"},{"x1":39.5,"x2":67.2,"e1":5.8,"e2":6.44,"f":"het"},{"x1":70.1,"x2":98.2,"e1":5.62,"e2":6.25,"f":"MoS2"}]},
"mark":{"type":"rect","stroke":"#cfcfcf","strokeWidth":0.8},
"encoding":{"x":{"field":"x1","type":"quantitative","scale":{"domain":[0,100],"nice":false,"zero":false},"axis":null},"x2":{"field":"x2"},
"y":{"field":"e1","type":"quantitative","scale":{"domain":[-0.727,7.89],"reverse":true,"nice":false,"zero":false},"axis":null},"y2":{"field":"e2"},
"color":{"field":"f","type":"nominal","scale":{"domain":["vac","BAO","het","MoS2"],"range":["#1fa3dc","#22ea22","#f2f21c","#f034d8"]},"legend":null}}},
{"data":{"values":[{"x1":8.1,"x2":99.6,"e":0,"k":"vac"},{"x1":70.1,"x2":98.2,"e":4.32,"k":"lvl"},{"x1":70.1,"x2":98.2,"e":5.59,"k":"lvl"}]},
"mark":{"type":"rule","strokeWidth":2},
"encoding":{"x":{"field":"x1","type":"quantitative"},"x2":{"field":"x2"},"y":{"field":"e","type":"quantitative"},
"color":{"field":"k","type":"nominal","scale":{"domain":["vac","lvl"],"range":["#222222","#8a8a8a"]},"legend":null}}},
{"data":{"values":[{"x1":8.9,"x2":36.5,"e":7.2},{"x1":39.5,"x2":67.2,"e":5.74},{"x1":70.1,"x2":98.2,"e":5.05}]},
"mark":{"type":"rule","strokeWidth":2,"color":"#ff2020","strokeDash":[5,3]},
"encoding":{"x":{"field":"x1","type":"quantitative"},"x2":{"field":"x2"},"y":{"field":"e","type":"quantitative"}}},
{"data":{"values":[{"x":22.1,"e0":0,"e1":7.2,"m":"BAO"},{"x":53.9,"e0":0,"e1":5.74,"m":"het"},{"x":83.8,"e0":0,"e1":5.05,"m":"MoS2"}]},
"layer":[
{"mark":{"type":"rule","strokeWidth":1.6},"encoding":{"x":{"field":"x","type":"quantitative"},"y":{"field":"e0","type":"quantitative"},"y2":{"field":"e1"},"color":{"field":"m","type":"nominal","scale":{"domain":["BAO","het","MoS2"],"range":["#33ee33","#ffff22","#f040e0"]},"legend":null}}},
{"mark":{"type":"point","shape":"triangle-up","filled":true,"opacity":1,"size":40,"yOffset":4},"encoding":{"x":{"field":"x","type":"quantitative"},"y":{"field":"e0","type":"quantitative"},"color":{"field":"m","type":"nominal","legend":null}}},
{"mark":{"type":"point","shape":"triangle-down","filled":true,"opacity":1,"size":40,"yOffset":-4},"encoding":{"x":{"field":"x","type":"quantitative"},"y":{"field":"e1","type":"quantitative"},"color":{"field":"m","type":"nominal","legend":null}}}
]},
{"data":{"values":[{"x":83.3,"e":4.98},{"x":74.1,"e":4.5},{"x":63.0,"e":4.46},{"x":53.1,"e":4.68},{"x":43.3,"e":5.28},{"x":33.5,"e":6.13},{"x":26.1,"e":6.74},{"x":22.1,"e":7.04}]},
"mark":{"type":"line","interpolate":"monotone","color":"#444444","strokeWidth":1.5,"strokeDash":[2,2]},
"encoding":{"x":{"field":"x","type":"quantitative"},"y":{"field":"e","type":"quantitative"}}},
{"data":{"values":[{"x":22.1,"e":7.04}]},"mark":{"type":"point","shape":"triangle-right","angle":142,"filled":true,"opacity":1,"size":35,"color":"#444444"},
"encoding":{"x":{"field":"x","type":"quantitative"},"y":{"field":"e","type":"quantitative"}}},
{"data":{"values":[{"x":21.0,"e":3.75,"t":"7.20 eV"},{"x":52.4,"e":3.02,"t":"5.74 eV"},{"x":83.0,"e":2.62,"t":"5.05 eV"},{"x":61.3,"e":4.22,"t":"e⁻"}]},
"mark":{"type":"text","font":"Liberation Sans, DejaVu Sans","fontWeight":"bold","fontSize":9.5,"color":"#222222"},
"encoding":{"x":{"field":"x","type":"quantitative"},"y":{"field":"e","type":"quantitative"},"text":{"field":"t"}}},
{"data":{"values":[{"x":53.9,"e":-0.33,"t":"Vac. Level = 0 eV"},{"x":22.5,"e":7.56,"t":"BAO Z+↓"},{"x":53.3,"e":6.12,"t":"MoS₂/BAO Z+↓"},{"x":84.1,"e":5.93,"t":"MoS₂"}]},
"mark":{"type":"text","font":"Liberation Sans, DejaVu Sans","fontWeight":"bold","fontSize":10,"color":"#222222"},
"encoding":{"x":{"field":"x","type":"quantitative"},"y":{"field":"e","type":"quantitative"},"text":{"field":"t"}}},
{"data":{"values":[{"x":69.4,"e":7.53,"t":"(b) MoS₂/BAO Z+↓"}]},
"mark":{"type":"text","font":"Liberation Sans, DejaVu Sans","fontWeight":"bold","fontSize":19,"color":"#111111"},
"encoding":{"x":{"field":"x","type":"quantitative"},"y":{"field":"e","type":"quantitative"},"text":{"field":"t"}}}
]}
]}
]
}
